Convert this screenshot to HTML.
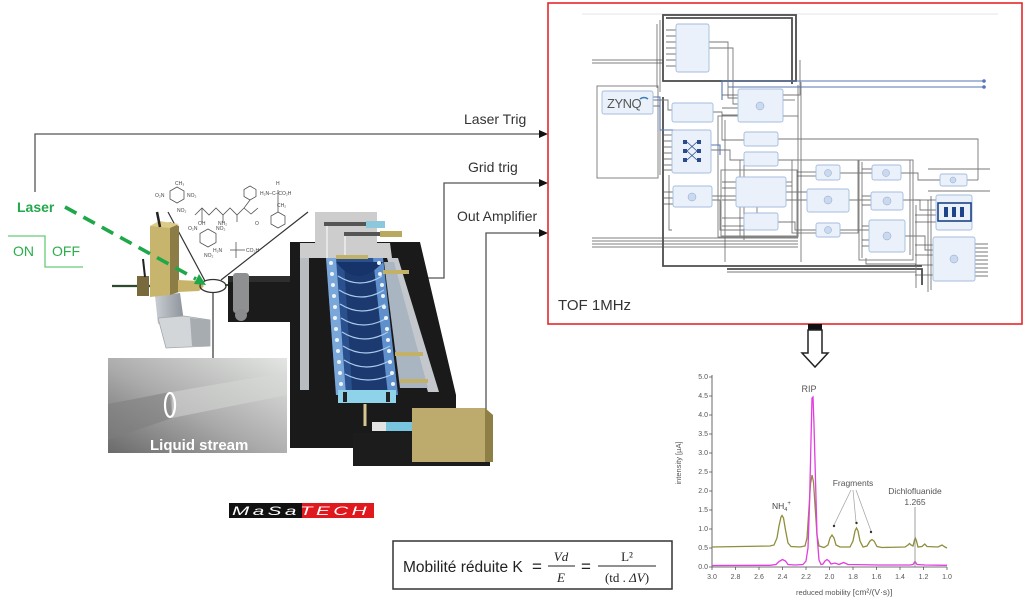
<!DOCTYPE html>
<html><head><meta charset="utf-8">
<style>
html,body{margin:0;padding:0;background:#fff;}
body{width:1024px;height:610px;overflow:hidden;position:relative;font-family:"Liberation Sans",sans-serif;}
svg{position:absolute;left:0;top:0;}
</style></head>
<body>
<svg width="1024" height="610" viewBox="0 0 1024 610" xmlns="http://www.w3.org/2000/svg" font-family="Liberation Sans, sans-serif">
<defs>
<linearGradient id="photo" x1="0" y1="1" x2="1" y2="0">
<stop offset="0" stop-color="#6a6a6a"/><stop offset="0.45" stop-color="#a9aaa9"/><stop offset="1" stop-color="#e4e6e4"/>
</linearGradient>
<linearGradient id="stand" x1="0" y1="0" x2="1" y2="0">
<stop offset="0" stop-color="#c9ced4"/><stop offset="1" stop-color="#8d939a"/>
</linearGradient>
</defs>

<!-- ===== signal lines ===== -->
<g stroke="#555" stroke-width="1.3" fill="none">
<polyline points="35,192 35,134 541,134"/>
<polyline points="415,278 444,278 444,183 541,183"/>
<polyline points="486,420 486,233 541,233"/>
</g>
<g fill="#111">
<polygon points="548,134 539,130 539,138"/>
<polygon points="548,183 539,179 539,187"/>
<polygon points="548,233 539,229 539,237"/>
</g>
<g font-size="14" fill="#333">
<text x="464" y="124">Laser Trig</text>
<text x="468" y="172">Grid trig</text>
<text x="457" y="221">Out Amplifier</text>
</g>

<!-- ===== laser / on-off ===== -->
<text x="17" y="212" font-size="14" font-weight="bold" fill="#22a84a">Laser</text>
<polyline points="8,236 45,236 45,267 83,267" fill="none" stroke="#66cc77" stroke-width="1.3"/>
<text x="13" y="256" font-size="14" fill="#2aae4c">ON</text>
<text x="52" y="256" font-size="14" fill="#2aae4c">OFF</text>

<!-- ===== molecules ===== -->
<g stroke="#555" stroke-width="0.8" fill="none">
<polygon points="177,187 184,191 184,199 177,203 170,199 170,191"/>
<polygon points="250,186 256,189.5 256,196.5 250,200 244,196.5 244,189.5"/>
<polygon points="278,212 285,216 285,224 278,228 271,224 271,216"/>
<polygon points="208,229 216,233.5 216,242.5 208,247 200,242.5 200,233.5"/>
<polyline points="195,215 202,208 209,215 216,208 223,215 230,208 237,215 244,208 250,200"/>
<polyline points="244,208 251,214 258,208"/>
<line x1="202" y1="208" x2="202" y2="222"/><line x1="223" y1="215" x2="223" y2="222"/><line x1="237" y1="215" x2="237" y2="222"/>
<line x1="278" y1="190" x2="278" y2="212"/>
<line x1="230" y1="250" x2="245" y2="250"/>
<line x1="236" y1="242" x2="236" y2="258"/>
</g>
<g font-size="5" fill="#444">
<text x="175" y="185">CH₃</text><text x="155" y="197">O₂N</text><text x="187" y="197">NO₂</text><text x="177" y="212">NO₂</text>
<text x="260" y="195">H₂N–C–CO₂H</text><text x="276" y="185">H</text><text x="277" y="207">CH₂</text>
<text x="188" y="230">O₂N</text><text x="216" y="230">NO₂</text><text x="204" y="257">NO₂</text>
<text x="213" y="252">H₂N</text><text x="246" y="252">CO₂H</text>
<text x="198" y="225">OH</text><text x="218" y="225">NH₂</text><text x="255" y="225">O</text>
</g>
<!-- cone lines -->
<g stroke="#333" stroke-width="1.2">
<line x1="168" y1="212" x2="205" y2="281"/>
<line x1="308" y1="212" x2="221" y2="280"/>
<line x1="213" y1="292" x2="213" y2="358"/>
</g>

<!-- ===== laser holder / stand ===== -->
<polygon points="155,296 180,293 184,322 158,324" fill="url(#stand)"/>
<polygon points="158,318 184,316 210,320 210,346 166,348" fill="#d3d6d9" stroke="#a3a7ab" stroke-width="0.8"/>
<polygon points="190,318 210,320 210,346 192,346" fill="#a7acb1"/>
<line x1="112" y1="286" x2="150" y2="286" stroke="#2e4a2e" stroke-width="2.2"/>
<rect x="137" y="276" width="12" height="20" fill="#786a3c"/>
<line x1="143" y1="259" x2="145" y2="277" stroke="#222" stroke-width="2"/>
<polygon points="150,226 170,222 170,295 150,297" fill="#c7b56e"/>
<polygon points="170,222 179,226 179,292 170,295" fill="#8c7d46"/>
<polygon points="150,226 159,221 179,224 170,228" fill="#dccb86"/>
<line x1="157" y1="212" x2="160" y2="227" stroke="#222" stroke-width="2.5"/>
<polygon points="178,280 199,281 204,286 199,291 178,292" fill="#c8b36b"/>
<line x1="225" y1="285" x2="328" y2="285" stroke="#2f6d2f" stroke-width="2"/>
<ellipse cx="213" cy="286" rx="13" ry="6.5" fill="none" stroke="#333" stroke-width="1.3"/>

<!-- green dashed laser arrow -->
<line x1="65" y1="207" x2="196" y2="279" stroke="#1ea84a" stroke-width="3.6" stroke-dasharray="13 8"/>
<polygon points="206,285 194,284 199,274" fill="#1ea84a"/>

<!-- ===== photo ===== -->
<rect x="108" y="358" width="179" height="95" fill="url(#photo)"/>
<polygon points="108,404 170,392 172,418 108,440" fill="#7c7d7c" opacity="0.55"/>
<polygon points="172,392 287,372 287,395 172,418" fill="#d8dad8" opacity="0.5"/>
<ellipse cx="170" cy="405" rx="5" ry="12" fill="none" stroke="#fff" stroke-width="2.2"/>
<text x="150" y="450" font-size="15" font-weight="bold" fill="#fff">Liquid stream</text>

<!-- ===== IMS device ===== -->
<rect x="228" y="279" width="64" height="43" fill="#1b1b1b"/>
<rect x="228" y="276" width="64" height="6" fill="#2e2e2e"/>
<rect x="233" y="273" width="16" height="40" rx="3" fill="#8f9092"/>
<circle cx="241" cy="315" r="6" fill="#8a8b8d"/>
<polygon points="290,242 420,242 456,395 456,440 400,440 400,466 353,466 353,448 290,448" fill="#1a1a1a"/>
<rect x="353" y="433" width="137" height="33" fill="#1c1c1c"/>
<polygon points="315,212 377,212 377,243 390,243 392,258 300,258 300,243 315,243" fill="#cdcdcd"/>
<rect x="324" y="222" width="44" height="4" fill="#555"/>
<rect x="366" y="221" width="19" height="7" fill="#8cc8dc"/>
<rect x="344" y="232" width="42" height="4" fill="#555"/>
<rect x="380" y="231" width="22" height="6" fill="#b9a95e"/>
<line x1="327" y1="226" x2="327" y2="258" stroke="#efefef" stroke-width="1.5"/>
<line x1="345" y1="236" x2="345" y2="258" stroke="#efefef" stroke-width="1.5"/>
<polygon points="300,258 309,258 309,390 300,390" fill="#b9bdc1"/>
<polygon points="387,258 398,258 439,392 428,392" fill="#c4c8cc"/>
<polygon points="384,262 394,262 428,388 400,388" fill="#a9b5c1"/>
<polygon points="326,258 383,258 398,395 336,395" fill="#2b508e"/>
<polygon points="344,262 374,262 388,390 352,390" fill="#1c3a70"/>
<polygon points="326,258 336,258 346,395 336,395" fill="#7aa7da"/>
<polygon points="373,258 383,258 398,395 388,395" fill="#5f90cc"/>
<g fill="none" stroke="#a8cbee" stroke-width="1.2">
<path d="M338 276 Q360 290 382 276"/><path d="M339 290 Q361 304 384 290"/><path d="M340 304 Q362 318 385 304"/>
<path d="M341 318 Q363 332 387 318"/><path d="M342 332 Q364 346 388 332"/><path d="M343 346 Q365 360 390 346"/>
<path d="M344 360 Q366 374 391 360"/><path d="M345 374 Q367 386 393 374"/>
</g>
<path d="M336 262 Q358 290 383 262" fill="#17346a"/>
<g fill="#eef4fb">
<circle cx="331" cy="263" r="2"/><circle cx="332" cy="274" r="2"/><circle cx="333" cy="285" r="2"/><circle cx="334" cy="296" r="2"/><circle cx="335" cy="307" r="2"/><circle cx="335" cy="318" r="2"/><circle cx="336" cy="329" r="2"/><circle cx="337" cy="340" r="2"/><circle cx="338" cy="351" r="2"/><circle cx="339" cy="362" r="2"/><circle cx="340" cy="373" r="2"/><circle cx="341" cy="384" r="2"/>
<circle cx="379" cy="263" r="2"/><circle cx="380" cy="274" r="2"/><circle cx="382" cy="285" r="2"/><circle cx="383" cy="296" r="2"/><circle cx="384" cy="307" r="2"/><circle cx="386" cy="318" r="2"/><circle cx="387" cy="329" r="2"/><circle cx="388" cy="340" r="2"/><circle cx="389" cy="351" r="2"/><circle cx="390" cy="362" r="2"/><circle cx="392" cy="373" r="2"/><circle cx="393" cy="384" r="2"/>
</g>
<rect x="338" y="390" width="58" height="13" fill="#8fd3ea"/>
<rect x="343" y="392" width="4" height="10" fill="#222"/><rect x="386" y="392" width="4" height="10" fill="#222"/>
<rect x="336" y="255" width="32" height="4" fill="#c2b166"/>
<rect x="383" y="270" width="26" height="4" fill="#c2b166"/>
<rect x="395" y="352" width="28" height="4" fill="#c2b166"/>
<rect x="400" y="379" width="28" height="4" fill="#c2b166"/>
<line x1="365" y1="404" x2="365" y2="426" stroke="#d7c68e" stroke-width="3"/>
<rect x="372" y="422" width="14" height="9" fill="#e3e3e3"/>
<rect x="386" y="422" width="26" height="9" fill="#79c4de"/>
<rect x="412" y="408" width="73" height="54" fill="#bcab6c"/>
<polygon points="485,408 493,415 493,462 485,462" fill="#8e7f46"/>

<!-- ===== logo ===== -->
<rect x="229" y="503" width="73" height="15" fill="#111"/>
<rect x="302" y="503" width="72" height="15" fill="#e0191f"/>
<text x="232" y="515" font-size="12" font-style="italic" fill="#fff" textLength="138" lengthAdjust="spacingAndGlyphs" letter-spacing="2">MaSaTECH</text>

<!-- ===== formula ===== -->
<rect x="393" y="541" width="279" height="48" fill="#fff" stroke="#333" stroke-width="1.5"/>
<text x="403" y="572" font-size="15.5" fill="#222">Mobilité réduite K</text>
<text x="532" y="572" font-size="17" fill="#222">=</text>
<text x="561" y="561" font-size="13" font-style="italic" font-family="Liberation Serif, serif" text-anchor="middle" fill="#222">Vd</text>
<line x1="548" y1="566" x2="575" y2="566" stroke="#222" stroke-width="1"/>
<text x="561" y="582" font-size="13" font-style="italic" font-family="Liberation Serif, serif" text-anchor="middle" fill="#222">E</text>
<text x="581" y="572" font-size="17" fill="#222">=</text>
<text x="627" y="561" font-size="13" font-family="Liberation Serif, serif" text-anchor="middle" fill="#222">L²</text>
<line x1="598" y1="566" x2="656" y2="566" stroke="#222" stroke-width="1"/>
<text x="627" y="582" font-size="13" font-family="Liberation Serif, serif" text-anchor="middle" fill="#222">(td . <tspan font-style="italic">ΔV</tspan>)</text>

<!-- ===== red FPGA box ===== -->
<rect x="548" y="3" width="474" height="321" fill="#fff" stroke="#e8262a" stroke-width="1.6"/>
<line x1="582" y1="14" x2="998" y2="14" stroke="#e6e6e6" stroke-width="1"/>
<g fill="none" stroke="#4d4d4d" stroke-width="1.8">
<rect x="663" y="15" width="133" height="66"/>
<polyline points="666,18 792,18 792,84"/>
<polyline points="663,97 663,266 922,266"/>
<polyline points="727,269 922,269 922,285"/>
</g>
<g fill="none" stroke="#777" stroke-width="0.9">
<rect x="597" y="86" width="61" height="92"/>
<rect x="718" y="116" width="80" height="121"/>
<rect x="721" y="170" width="76" height="66"/>
<rect x="792" y="160" width="66" height="73"/>
<rect x="859" y="160" width="54" height="100"/>
<polyline points="778,139 978,139 978,180"/>
<polyline points="967,180 978,180"/>
<polyline points="778,160 797,160"/>
<polyline points="709,42 728,42 728,98 738,98"/>
<polyline points="709,48 733,48 733,104 738,104"/>
<polyline points="783,95 800,95 800,60"/>
<polyline points="783,100 795,100"/>
<polyline points="652,100 668,100 668,110 672,110"/>
<polyline points="713,112 722,112 722,140 744,140"/>
<polyline points="711,150 730,150 730,160 744,160"/>
<polyline points="712,196 737,196"/>
<polyline points="785,192 807,192"/>
<polyline points="785,200 807,200"/>
<polyline points="777,222 795,222 795,230 816,230"/>
<polyline points="840,173 872,173"/>
<polyline points="848,200 871,200"/>
<polyline points="840,230 869,230"/>
<polyline points="901,173 918,173 918,180 940,180"/>
<polyline points="903,200 920,200 920,210 936,210"/>
<polyline points="905,236 925,236 925,250 933,250"/>
<polyline points="928,169 990,169"/>
<polyline points="928,191 990,191"/>
<!-- extra bundles -->
<polyline points="660,20 660,92"/><polyline points="657,24 657,88"/>
<polyline points="798,85 798,118"/><polyline points="801,82 801,262"/>
<polyline points="725,120 725,262"/><polyline points="740,160 740,236"/><polyline points="744,165 744,240"/>
<polyline points="916,205 916,288"/><polyline points="928,200 928,292"/><polyline points="931,196 931,290"/>
<polyline points="727,272 916,272"/><polyline points="866,258 866,264 916,264"/>
<polyline points="910,160 910,255"/><polyline points="862,162 862,258"/>
<polyline points="669,175 669,230 672,230"/><polyline points="712,200 720,200 720,230 744,230"/>
<polyline points="786,182 792,182"/><polyline points="786,186 792,186"/>
<polyline points="757,206 757,213"/>
<polyline points="652,106 660,106 660,175"/>
</g>
<g stroke="#555" stroke-width="0.8">
<line x1="592" y1="60" x2="663" y2="60"/><line x1="592" y1="63" x2="663" y2="63"/>
<line x1="592" y1="238" x2="798" y2="238"/><line x1="592" y1="241" x2="798" y2="241"/>
<line x1="592" y1="244" x2="798" y2="244"/><line x1="592" y1="247" x2="798" y2="247"/>
<line x1="666" y1="30" x2="676" y2="30"/><line x1="666" y1="36" x2="676" y2="36"/><line x1="666" y1="42" x2="676" y2="42"/>
<line x1="666" y1="48" x2="676" y2="48"/><line x1="666" y1="54" x2="676" y2="54"/><line x1="666" y1="60" x2="676" y2="60"/><line x1="666" y1="66" x2="676" y2="66"/>
<line x1="664" y1="135" x2="675" y2="135"/><line x1="664" y1="141" x2="675" y2="141"/><line x1="664" y1="147" x2="675" y2="147"/>
<line x1="664" y1="153" x2="675" y2="153"/><line x1="664" y1="159" x2="675" y2="159"/><line x1="664" y1="165" x2="675" y2="165"/><line x1="664" y1="170" x2="675" y2="170"/>
<line x1="664" y1="192" x2="673" y2="192"/><line x1="664" y1="198" x2="673" y2="198"/><line x1="664" y1="204" x2="673" y2="204"/>
<line x1="722" y1="95" x2="738" y2="95"/><line x1="722" y1="108" x2="738" y2="108"/><line x1="722" y1="115" x2="738" y2="115"/>
<line x1="722" y1="182" x2="737" y2="182"/><line x1="722" y1="188" x2="737" y2="188"/><line x1="722" y1="200" x2="737" y2="200"/>
<line x1="722" y1="218" x2="744" y2="218"/><line x1="722" y1="226" x2="744" y2="226"/>
<line x1="797" y1="172" x2="816" y2="172"/><line x1="797" y1="176" x2="816" y2="176"/>
<line x1="862" y1="169" x2="872" y2="169"/><line x1="862" y1="196" x2="871" y2="196"/><line x1="862" y1="205" x2="871" y2="205"/>
<line x1="862" y1="226" x2="869" y2="226"/><line x1="862" y1="240" x2="869" y2="240"/><line x1="862" y1="246" x2="869" y2="246"/>
<line x1="915" y1="200" x2="936" y2="200"/><line x1="915" y1="215" x2="936" y2="215"/><line x1="915" y1="222" x2="936" y2="222"/>
<line x1="915" y1="245" x2="933" y2="245"/><line x1="915" y1="255" x2="933" y2="255"/><line x1="915" y1="265" x2="933" y2="265"/><line x1="915" y1="275" x2="933" y2="275"/>
<line x1="975" y1="244" x2="988" y2="244"/><line x1="975" y1="248" x2="988" y2="248"/><line x1="975" y1="252" x2="988" y2="252"/>
<line x1="975" y1="256" x2="988" y2="256"/><line x1="975" y1="260" x2="988" y2="260"/><line x1="975" y1="264" x2="988" y2="264"/>
<line x1="975" y1="268" x2="988" y2="268"/><line x1="975" y1="272" x2="988" y2="272"/><line x1="975" y1="276" x2="988" y2="276"/>
</g>
<g fill="none" stroke="#5577b5" stroke-width="1.1">
<polyline points="722,100 722,81 983,81"/>
<polyline points="728,87 983,87"/>
<polyline points="652,97 660,97 660,130 675,130"/>
<polyline points="711,145 720,145 720,155"/>
</g>
<circle cx="984" cy="81" r="1.8" fill="#5577b5"/><circle cx="984" cy="87" r="1.8" fill="#5577b5"/>
<g fill="#eaf1fb" stroke="#a5bddc" stroke-width="0.9">
<rect x="676" y="24" width="33" height="48" rx="2"/>
<rect x="602" y="91" width="51" height="23" rx="2"/>
<rect x="672" y="103" width="41" height="19" rx="2"/>
<rect x="672" y="130" width="39" height="43" rx="2"/>
<rect x="738" y="89" width="45" height="33" rx="2"/>
<rect x="744" y="132" width="34" height="14" rx="2"/>
<rect x="744" y="152" width="34" height="14" rx="2"/>
<rect x="736" y="177" width="50" height="30" rx="2"/>
<rect x="673" y="186" width="39" height="21" rx="2"/>
<rect x="744" y="213" width="34" height="17" rx="2"/>
<rect x="816" y="165" width="24" height="15" rx="2"/>
<rect x="807" y="189" width="42" height="23" rx="2"/>
<rect x="816" y="223" width="24" height="14" rx="2"/>
<rect x="872" y="165" width="29" height="15" rx="2"/>
<rect x="871" y="192" width="32" height="18" rx="2"/>
<rect x="869" y="220" width="36" height="32" rx="2"/>
<rect x="940" y="174" width="27" height="12" rx="2"/>
<rect x="936" y="195" width="36" height="35" rx="2"/>
<rect x="933" y="237" width="42" height="44" rx="2"/>
</g>
<text x="607" y="108" font-size="13" fill="#555" letter-spacing="-0.5">ZYNQ</text>
<path d="M640 99 q4 -3 8 0" stroke="#3a7bbf" stroke-width="1.5" fill="none"/>
<g fill="#2a4c8c">
<rect x="683" y="140" width="4" height="4"/><rect x="697" y="140" width="4" height="4"/>
<rect x="683" y="149" width="4" height="4"/><rect x="697" y="149" width="4" height="4"/>
<rect x="683" y="158" width="4" height="4"/><rect x="697" y="158" width="4" height="4"/>
</g>
<g stroke="#2a4c8c" stroke-width="0.8"><line x1="687" y1="142" x2="697" y2="151"/><line x1="697" y1="142" x2="687" y2="151"/><line x1="687" y1="151" x2="697" y2="160"/><line x1="697" y1="151" x2="687" y2="160"/></g>
<rect x="938" y="203" width="33" height="18" fill="#eaf1fb" stroke="#1d4488" stroke-width="1.6"/>
<rect x="944" y="207" width="4" height="10" fill="#1d4488"/><rect x="952" y="207" width="4" height="10" fill="#1d4488"/><rect x="960" y="207" width="4" height="10" fill="#1d4488"/>
<g fill="#cbd9ee" stroke="#8aa6cf" stroke-width="0.5">
<circle cx="760" cy="106" r="4"/><circle cx="692" cy="197" r="4"/><circle cx="828" cy="173" r="3.5"/>
<circle cx="828" cy="200" r="4"/><circle cx="828" cy="230" r="3.5"/><circle cx="886" cy="173" r="3.5"/>
<circle cx="887" cy="201" r="4"/><circle cx="887" cy="236" r="4"/><circle cx="953" cy="180" r="3"/><circle cx="954" cy="259" r="4"/>
</g>
<text x="558" y="310" font-size="15" fill="#333">TOF 1MHz</text>

<!-- ===== down arrow ===== -->
<rect x="808" y="324" width="14" height="6" fill="#111"/>
<polygon points="808,330 822,330 822,353 828,353 815,367 802,353 808,353" fill="#fff" stroke="#222" stroke-width="1.5"/>

<!-- ===== chart ===== -->
<g stroke="#444" stroke-width="0.8" fill="none">
<line x1="712" y1="375" x2="712" y2="567"/>
<line x1="712" y1="567" x2="947" y2="567"/>
</g>
<g stroke="#444" stroke-width="0.7">
<line x1="709" y1="377" x2="712" y2="377"/><line x1="709" y1="396" x2="712" y2="396"/><line x1="709" y1="415" x2="712" y2="415"/>
<line x1="709" y1="434" x2="712" y2="434"/><line x1="709" y1="453" x2="712" y2="453"/><line x1="709" y1="472" x2="712" y2="472"/>
<line x1="709" y1="491" x2="712" y2="491"/><line x1="709" y1="510" x2="712" y2="510"/><line x1="709" y1="529" x2="712" y2="529"/>
<line x1="709" y1="548" x2="712" y2="548"/><line x1="709" y1="567" x2="712" y2="567"/>
<line x1="712" y1="567" x2="712" y2="570"/><line x1="735.5" y1="567" x2="735.5" y2="570"/><line x1="759" y1="567" x2="759" y2="570"/>
<line x1="782.5" y1="567" x2="782.5" y2="570"/><line x1="806" y1="567" x2="806" y2="570"/><line x1="829.5" y1="567" x2="829.5" y2="570"/>
<line x1="853" y1="567" x2="853" y2="570"/><line x1="876.5" y1="567" x2="876.5" y2="570"/><line x1="900" y1="567" x2="900" y2="570"/>
<line x1="923.5" y1="567" x2="923.5" y2="570"/><line x1="947" y1="567" x2="947" y2="570"/>
</g>
<g font-size="7" fill="#555" text-anchor="end">
<text x="708" y="379">5.0</text><text x="708" y="398">4.5</text><text x="708" y="417">4.0</text><text x="708" y="436">3.5</text>
<text x="708" y="455">3.0</text><text x="708" y="474">2.5</text><text x="708" y="493">2.0</text><text x="708" y="512">1.5</text>
<text x="708" y="531">1.0</text><text x="708" y="550">0.5</text><text x="708" y="569">0.0</text>
</g>
<g font-size="7" fill="#555" text-anchor="middle">
<text x="712" y="579">3.0</text><text x="735.5" y="579">2.8</text><text x="759" y="579">2.6</text><text x="782.5" y="579">2.4</text>
<text x="806" y="579">2.2</text><text x="829.5" y="579">2.0</text><text x="853" y="579">1.8</text><text x="876.5" y="579">1.6</text>
<text x="900" y="579">1.4</text><text x="923.5" y="579">1.2</text><text x="947" y="579">1.0</text>
</g>
<text x="796" y="595" font-size="7.5" fill="#555">reduced mobility <tspan font-size="8.5">[cm²/(V·s)]</tspan></text>
<text transform="translate(681,463) rotate(-90)" font-size="7.5" fill="#555" text-anchor="middle">intensity [µA]</text>
<polyline fill="none" stroke="#8f8e3c" stroke-width="1.3" points="712,547 740,546.5 770,546 774,545 777,538 779,526 781,517 782,515.5 783.5,518 785.5,530 788,543 791,546.5 800,547 805,546 807,538 809,508 810.5,484 812,475 813.5,482 815,505 817,535 819,546 824,547.5 828,545 830,538 832,535 834,538 836,545 840,547 850,547 853,541 855,531 856.5,528 858,531 860,541 863,547 867,546 870,541 872,539.5 874,541 877,546.5 882,547.5 905,547 908,545 909.5,543.5 911,545 913,546 914.5,540 915.3,538 916.5,541 918,547 922,546.5 924.7,544 927,546.5 938,547 942,545 945,547 947,548"/>
<polyline fill="none" stroke="#e23de0" stroke-width="1.3" points="712,565.5 770,565.3 776,564.5 779,561.5 782.5,559.5 785.5,561 788,564.5 795,565 803,564.5 806,561 808,548 809.5,505 811,440 812,398 813,397 814,425 815.5,480 817,535 819,560 821,564.5 823,564 825,561 827,559.5 829,561 831,564 835,563 839,564.5 843.6,562.5 848,564.5 880,565 910,565 913,564.5 915,561.5 917,564.5 925,565 947,565.3"/>
<text x="809" y="392" font-size="9" fill="#555" text-anchor="middle">RIP</text>
<text x="772" y="509" font-size="8.5" fill="#444">NH<tspan font-size="5.5" dy="2">4</tspan><tspan font-size="6" dy="-6">+</tspan></text>
<text x="853" y="486" font-size="8.5" fill="#555" text-anchor="middle">Fragments</text>
<g stroke="#aaa" stroke-width="0.8">
<line x1="851" y1="490" x2="834" y2="525"/><line x1="853" y1="490" x2="856" y2="522"/><line x1="856" y1="490" x2="871" y2="531"/>
<line x1="915" y1="507" x2="915" y2="567" stroke="#888"/>
</g>
<g fill="#333"><circle cx="834" cy="526" r="1.2"/><circle cx="856.5" cy="523" r="1.2"/><circle cx="871" cy="532" r="1.2"/></g>
<text x="915" y="494" font-size="8.5" fill="#555" text-anchor="middle">Dichlofluanide</text>
<text x="915" y="505" font-size="8.5" fill="#555" text-anchor="middle">1.265</text>
</svg>
</body></html>
